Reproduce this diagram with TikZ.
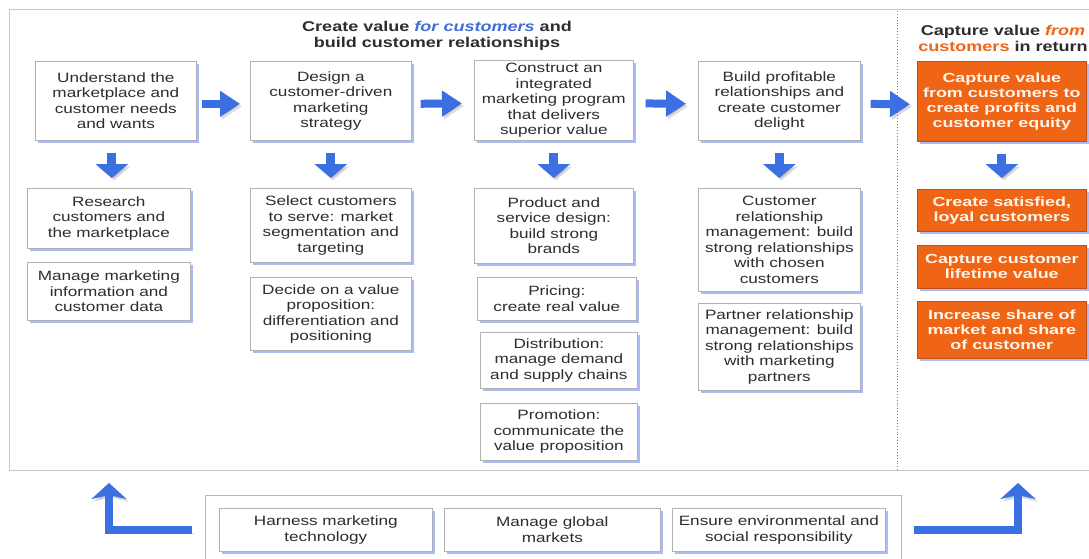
\documentclass[tikz,border=0pt]{standalone}
\usepackage{fontspec}
\setmainfont{Liberation Sans}[FakeStretch=1.27]
\newfontfamily\orfont{Liberation Sans}[FakeStretch=1.36]
\usetikzlibrary{arrows.meta,shadows}
\definecolor{ablue}{RGB}{58,112,226}
\definecolor{orng}{RGB}{240,100,22}
\definecolor{shblue}{RGB}{150,170,245}
\definecolor{tblue}{RGB}{66,110,215}
\definecolor{txt}{RGB}{45,45,45}
\tikzset{
  wbox/.style={draw=black!30, line width=0.7pt, fill=white, align=center,
    anchor=north west, inner sep=1pt, text=txt,
    font=\fontsize{13.5}{15.5}\selectfont,
    drop shadow={shadow xshift=2.5pt, shadow yshift=-3pt, fill=shblue, opacity=0.8}},
  obox/.style={draw=orng!80!black, line width=0.7pt, fill=orng, align=center,
    anchor=north west, inner sep=1pt, text=white!92!orange,
    font=\orfont\bfseries\fontsize{13.2}{15}\selectfont,
    drop shadow={shadow xshift=2.5pt, shadow yshift=-3pt, fill=shblue, opacity=0.8}},
  hd/.style={align=center, text=txt, font=\bfseries\fontsize{14.2}{16}\selectfont},
  fat/.style={draw=ablue, line width=8pt, -{Triangle[width=25pt,length=20pt]},
    preaction={draw=black!40, opacity=0.35, transform canvas={shift={(2pt,-2.5pt)}}}},
  fatdown/.style={draw=ablue, line width=9pt, -{Triangle[width=32pt,length=14pt]},
    preaction={draw=black!40, opacity=0.35, transform canvas={shift={(2pt,-2.5pt)}}}},
  bent/.style={draw=ablue, line width=8pt, -{Stealth[width=35pt,length=16pt,inset=4pt]},
    preaction={draw=black!40, opacity=0.35, transform canvas={shift={(2pt,-2.5pt)}}}}
}
\begin{document}
\begin{tikzpicture}[x=1pt,y=-1pt]
\useasboundingbox[fill=white] (0,0) rectangle (1089,559);
% main frame and divider
\draw[black!22, line width=0.8pt] (9,9) rectangle (1110,470);
\draw[black!50, dotted, line width=0.9pt] (897,11) -- (897,470);
% headings
\node[hd] (h1) at (437,36) {Create value \textcolor{tblue}{\itshape for customers} and\\build customer relationships};
\node[hd] (h2) at (1003,38) {Capture value \textcolor{orng}{\itshape from}\\\textcolor{orng}{customers} in return};
% top row
\node[wbox, minimum width=161pt, minimum height=79pt] (t1) at (35,61) {Understand the\\marketplace and\\customer needs\\and wants};
\node[wbox, minimum width=161pt, minimum height=79pt] (t2) at (250,61) {Design a\\customer-driven\\marketing\\strategy};
\node[wbox, minimum width=159pt, minimum height=80pt] (t3) at (474,60) {Construct an\\integrated\\marketing program\\that delivers\\superior value};
\node[wbox, minimum width=162pt, minimum height=79pt] (t4) at (698,61) {Build profitable\\relationships and\\create customer\\delight};
\node[obox, minimum width=169pt, minimum height=80pt] (o1) at (917,61) {Capture value\\from customers to\\create profits and\\customer equity};
% second rows
\node[wbox, minimum width=163pt, minimum height=60pt] (r1a) at (27,188) {Research\\customers and\\the marketplace};
\node[wbox, minimum width=163pt, minimum height=58pt] (r1b) at (27,262) {Manage marketing\\information and\\customer data};
\node[wbox, minimum width=161pt, minimum height=74pt] (r2a) at (250,188) {Select customers\\to serve: market\\segmentation and\\targeting};
\node[wbox, minimum width=161pt, minimum height=73pt] (r2b) at (250,277) {Decide on a value\\proposition:\\differentiation and\\positioning};
\node[wbox, minimum width=159pt, minimum height=75pt] (r3a) at (474,188) {Product and\\service design:\\build strong\\brands};
\node[wbox, minimum width=159pt, minimum height=43pt] (r3b) at (477,277) {Pricing:\\create real value};
\node[wbox, minimum width=157pt, minimum height=56pt] (r3c) at (480,332) {Distribution:\\manage demand\\and supply chains};
\node[wbox, minimum width=157pt, minimum height=57pt] (r3d) at (480,403) {Promotion:\\communicate the\\value proposition};
\node[wbox, minimum width=162pt, minimum height=103pt] (r4a) at (698,188) {Customer\\relationship\\management: build\\strong relationships\\with chosen\\customers};
\node[wbox, minimum width=162pt, minimum height=87pt] (r4b) at (698,303) {Partner relationship\\management: build\\strong relationships\\with marketing\\partners};
\node[obox, minimum width=169pt, minimum height=42pt] (o2) at (917,189) {Create satisfied,\\loyal customers};
\node[obox, minimum width=169pt, minimum height=43pt] (o3) at (917,245) {Capture customer\\lifetime value};
\node[obox, minimum width=169pt, minimum height=57pt] (o4) at (917,301) {Increase share of\\market and share\\of customer};
% bottom
\node[draw=black!28, line width=0.7pt, fill=white, anchor=north west, inner sep=0pt,
  minimum width=696pt, minimum height=70pt] (bot) at (205,495) {};
\node[wbox, minimum width=213pt, minimum height=43pt] (b1) at (219,508) {Harness marketing\\technology};
\node[wbox, minimum width=216pt, minimum height=43pt] (b2) at (444,508) {Manage global\\markets};
\node[wbox, minimum width=213pt, minimum height=43pt] (b3) at (672,508) {Ensure environmental and\\social responsibility};
% horizontal arrows
\draw[fat, shorten <=5pt, shorten >=10pt] ([yshift=-3pt]t1.east) -- ([yshift=-3pt]t2.west);
\draw[fat, shorten <=9pt, shorten >=12pt] ([yshift=-3pt]t2.east) -- ([yshift=-3pt]t3.west);
\draw[fat, shorten <=12pt, shorten >=12pt] ([yshift=-3pt]t3.east) -- ([yshift=-3pt]t4.west);
\draw[fat, shorten <=10pt, shorten >=7pt] ([yshift=-3pt]t4.east) -- ([yshift=-3pt]o1.west);
% down arrows
\draw[fatdown, shorten <=12pt, shorten >=10pt] ([xshift=-4pt]t1.south) -- ([xshift=-4pt]t1.south |- r1a.north);
\draw[fatdown, shorten <=12pt, shorten >=10pt] (t2.south) -- (t2.south |- r2a.north);
\draw[fatdown, shorten <=12pt, shorten >=10pt] (t3.south) -- (t3.south |- r3a.north);
\draw[fatdown, shorten <=12pt, shorten >=10pt] (t4.south) -- (t4.south |- r4a.north);
\draw[fatdown, shorten <=12pt, shorten >=11pt] (o1.south) -- (o1.south |- o2.north);
% bent arrows
\coordinate (lt) at (109,483);
\coordinate (rt) at (1018,483);
\draw[bent, shorten <=13pt] (bot.west) -| (lt);
\draw[bent, shorten <=12pt] (bot.east) -| (rt);
\end{tikzpicture}
\end{document}
